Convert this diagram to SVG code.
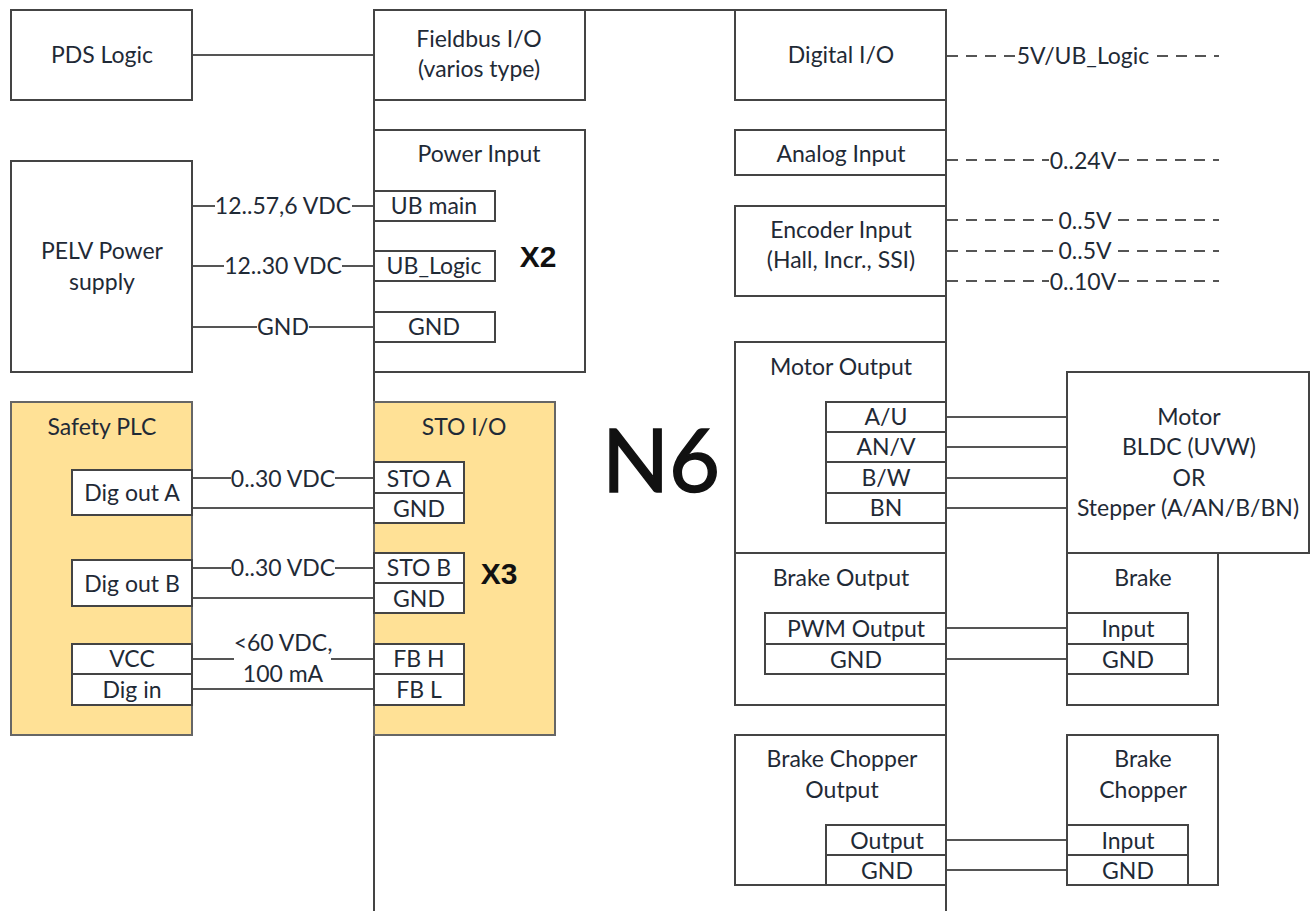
<svg xmlns="http://www.w3.org/2000/svg" width="1314" height="911" viewBox="0 0 1314 911">
<style>
text{font-family:"Lato","Open Sans","Liberation Sans",sans-serif;font-size:23px;fill:#1f2a36;text-anchor:middle;transform:translateY(1px)}
text.b{font-family:"Liberation Sans",Arial,sans-serif;font-weight:bold;font-size:30px;fill:#111;transform:none}
text.n{font-size:88px;fill:#111;stroke:#111;stroke-width:1.5;transform:none}
rect{fill:#fff;stroke:#444;stroke-width:2}
rect.y{fill:#ffe196;stroke:#666}
.c line{stroke:#555;stroke-width:2}
.c line.d{stroke-dasharray:11 8}
.bus line{stroke:#444;stroke-width:2}
</style>
<g class="bus" id="bus">
<line x1="374" y1="10" x2="946" y2="10"/><line x1="374" y1="10" x2="374" y2="911"/><line x1="946" y1="10" x2="946" y2="911"/>
</g>
<g class="c" id="connectors">
<line x1="192" y1="55" x2="374" y2="55"/>
<line x1="192" y1="206" x2="215" y2="206"/><line x1="352" y1="206" x2="374" y2="206"/>
<line x1="192" y1="266" x2="224" y2="266"/><line x1="342" y1="266" x2="374" y2="266"/>
<line x1="192" y1="327" x2="257" y2="327"/><line x1="309" y1="327" x2="374" y2="327"/>
<line x1="192" y1="478" x2="231" y2="478"/><line x1="335" y1="478" x2="374" y2="478"/>
<line x1="192" y1="508" x2="374" y2="508"/>
<line x1="192" y1="568" x2="231" y2="568"/><line x1="335" y1="568" x2="374" y2="568"/>
<line x1="192" y1="598" x2="374" y2="598"/>
<line x1="192" y1="659" x2="234" y2="659"/><line x1="331" y1="659" x2="374" y2="659"/>
<line x1="192" y1="689" x2="374" y2="689"/>
<line x1="946" y1="417" x2="1067" y2="417"/><line x1="946" y1="447" x2="1067" y2="447"/><line x1="946" y1="478" x2="1067" y2="478"/><line x1="946" y1="508" x2="1067" y2="508"/>
<line x1="946" y1="628" x2="1067" y2="628"/><line x1="946" y1="659" x2="1067" y2="659"/>
<line x1="946" y1="840" x2="1067" y2="840"/><line x1="946" y1="870" x2="1067" y2="870"/>
<line class="d" x1="947" y1="56" x2="1016" y2="56"/><line class="d" x1="1157" y1="56" x2="1219" y2="56"/>
<line class="d" x1="947" y1="160" x2="1049" y2="160"/><line class="d" x1="1118" y1="160" x2="1219" y2="160"/>
<line class="d" x1="947" y1="220" x2="1056" y2="220"/><line class="d" x1="1118" y1="220" x2="1219" y2="220"/>
<line class="d" x1="947" y1="251" x2="1056" y2="251"/><line class="d" x1="1118" y1="251" x2="1219" y2="251"/>
<line class="d" x1="947" y1="281" x2="1049" y2="281"/><line class="d" x1="1118" y1="281" x2="1219" y2="281"/>
</g>
<g id="labels">
<text x="283" y="213">12..57,6 VDC</text><text x="283" y="273">12..30 VDC</text><text x="283" y="334">GND</text>
<text x="283" y="486">0..30 VDC</text><text x="283" y="575">0..30 VDC</text>
<text x="283" y="650">&lt;60 VDC,</text><text x="283" y="681">100 mA</text>
<text x="1083" y="63">5V/UB_Logic</text><text x="1083" y="168">0..24V</text><text x="1085" y="228">0..5V</text><text x="1085" y="258">0..5V</text><text x="1083" y="289">0..10V</text>
<text class="n" x="661" y="492">N6</text>
</g>
<g id="pds-logic"><rect x="11" y="10" width="181" height="90"/><text x="102" y="62">PDS Logic</text></g>
<g id="fieldbus"><rect x="374" y="10" width="211" height="90"/><text x="479" y="46">Fieldbus I/O</text><text x="479" y="76">(varios type)</text></g>
<g id="digital-io"><rect x="735" y="10" width="211" height="90"/><text x="841" y="62">Digital I/O</text></g>
<g id="power-input"><rect x="374" y="130" width="211" height="242"/><text x="479" y="161">Power Input</text>
<rect x="374" y="191" width="121" height="30"/><text x="434" y="213">UB main</text>
<rect x="374" y="251" width="121" height="30"/><text x="434" y="273">UB_Logic</text>
<rect x="374" y="312" width="121" height="30"/><text x="434" y="334">GND</text>
<text class="b" x="538" y="267">X2</text></g>
<g id="pelv"><rect x="11" y="161" width="181" height="211"/><text x="102" y="258">PELV Power</text><text x="102" y="289">supply</text></g>
<g id="safety-plc"><rect class="y" x="11" y="402" width="181" height="333"/><text x="102" y="434">Safety PLC</text>
<rect x="72" y="470" width="120" height="45"/><text x="132" y="500">Dig out A</text>
<rect x="72" y="560" width="120" height="46"/><text x="132" y="591">Dig out B</text>
<rect x="72" y="644" width="120" height="30"/><text x="132" y="666">VCC</text>
<rect x="72" y="674" width="120" height="31"/><text x="132" y="697">Dig in</text></g>
<g id="sto-io"><rect class="y" x="374" y="402" width="181" height="333"/><text x="464" y="434">STO I/O</text>
<rect x="374" y="462" width="90" height="31"/><text x="419" y="486">STO A</text>
<rect x="374" y="493" width="90" height="30"/><text x="419" y="516">GND</text>
<rect x="374" y="553" width="90" height="30"/><text x="419" y="575">STO B</text>
<rect x="374" y="583" width="90" height="30"/><text x="419" y="606">GND</text>
<rect x="374" y="644" width="90" height="30"/><text x="419" y="666">FB H</text>
<rect x="374" y="674" width="90" height="31"/><text x="419" y="697">FB L</text>
<text class="b" x="499" y="584">X3</text></g>
<g id="analog-input"><rect x="735" y="130" width="211" height="45"/><text x="841" y="161">Analog Input</text></g>
<g id="encoder-input"><rect x="735" y="206" width="211" height="90"/><text x="841" y="237">Encoder Input</text><text x="841" y="267">(Hall, Incr., SSI)</text></g>
<g id="motor-output"><rect x="735" y="342" width="211" height="211"/><text x="841" y="374">Motor Output</text>
<rect x="826" y="402" width="120" height="30"/><text x="886" y="424">A/U</text>
<rect x="826" y="432" width="120" height="30"/><text x="886" y="454">AN/V</text>
<rect x="826" y="462" width="120" height="31"/><text x="886" y="485">B/W</text>
<rect x="826" y="493" width="120" height="30"/><text x="886" y="515">BN</text></g>
<g id="brake"><rect x="1067" y="553" width="151" height="152"/><text x="1143" y="585">Brake</text>
<rect x="1067" y="613" width="121" height="31"/><text x="1128" y="636">Input</text>
<rect x="1067" y="644" width="121" height="30"/><text x="1128" y="667">GND</text></g>
<g id="motor"><rect x="1067" y="372" width="242" height="181"/><text x="1189" y="424">Motor</text><text x="1189" y="454">BLDC (UVW)</text><text x="1189" y="485">OR</text><text x="1188" y="515">Stepper (A/AN/B/BN)</text></g>
<g id="brake-output"><rect x="735" y="553" width="211" height="152"/><text x="841" y="585">Brake Output</text>
<rect x="765" y="613" width="181" height="31"/><text x="856" y="636">PWM Output</text>
<rect x="765" y="644" width="181" height="30"/><text x="856" y="667">GND</text></g>
<g id="chopper-output"><rect x="735" y="735" width="211" height="150"/><text x="842" y="766">Brake Chopper</text><text x="842" y="797">Output</text>
<rect x="826" y="825" width="120" height="30"/><text x="887" y="848">Output</text>
<rect x="826" y="855" width="120" height="30"/><text x="887" y="878">GND</text></g>
<g id="brake-chopper"><rect x="1067" y="735" width="151" height="150"/><text x="1143" y="766">Brake</text><text x="1143" y="797">Chopper</text>
<rect x="1067" y="825" width="121" height="30"/><text x="1128" y="848">Input</text>
<rect x="1067" y="855" width="121" height="30"/><text x="1128" y="878">GND</text></g>
</svg>
